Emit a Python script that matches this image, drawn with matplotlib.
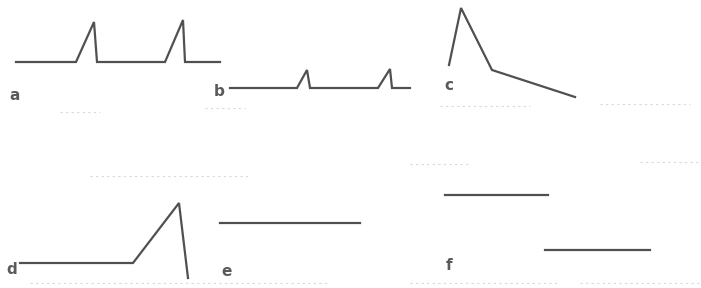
import matplotlib.pyplot as plt

# waveform sketches, traced in picture coordinates (x right, y down)
a_x = [16, 76, 94, 97, 165, 183, 185, 220]
a_y = [62, 62, 22, 62, 62, 20, 62, 62]

b_x = [230, 297, 307, 310, 378, 390, 392, 410]
b_y = [88, 88, 70, 88, 88, 69, 88, 88]

c_x = [449, 461, 492, 575]
c_y = [65, 8, 70, 97]

d_x = [20, 133, 179, 188]
d_y = [263, 263, 203, 278]

e_x = [220, 360]
e_y = [223, 223]

f1_x = [445, 548]
f1_y = [195, 195]
f2_x = [545, 650]
f2_y = [250, 250]

labels = ["a", "b", "c", "d", "e", "f"]
label_x = [9, 214, 444, 6, 221, 446]
label_y = [95, 92, 86, 270, 271, 266]

# faint scan smudges
smudge_x = [(60, 100), (205, 245), (440, 530), (600, 690), (90, 250), (410, 470),
            (640, 701), (30, 330), (410, 560), (580, 701)]
smudge_y = [112, 108, 106, 104, 176, 164, 162, 283, 283, 283]

fig = plt.figure(figsize=(7.01, 2.88), dpi=100)
ax = fig.add_axes([0, 0, 1, 1])
ax.set_xlim(0, 701)
ax.set_ylim(288, 0)
ax.axis("off")

ink = "#505050"
for sx, sy in zip(smudge_x, smudge_y):
    ax.plot(sx, [sy, sy], color="#d8d8d8", lw=0.8, ls=(0, (2, 3)))

for xs, ys in [(a_x, a_y), (b_x, b_y), (c_x, c_y), (d_x, d_y),
               (e_x, e_y), (f1_x, f1_y), (f2_x, f2_y)]:
    ax.plot(xs, ys, color=ink, lw=1.6, solid_joinstyle="miter")

for t, x, y in zip(labels, label_x, label_y):
    ax.text(x, y, t, color="#5a5a5a", fontsize=11, fontweight="bold",
            ha="left", va="center")

fig.savefig("out.png", dpi=100, facecolor="white")
